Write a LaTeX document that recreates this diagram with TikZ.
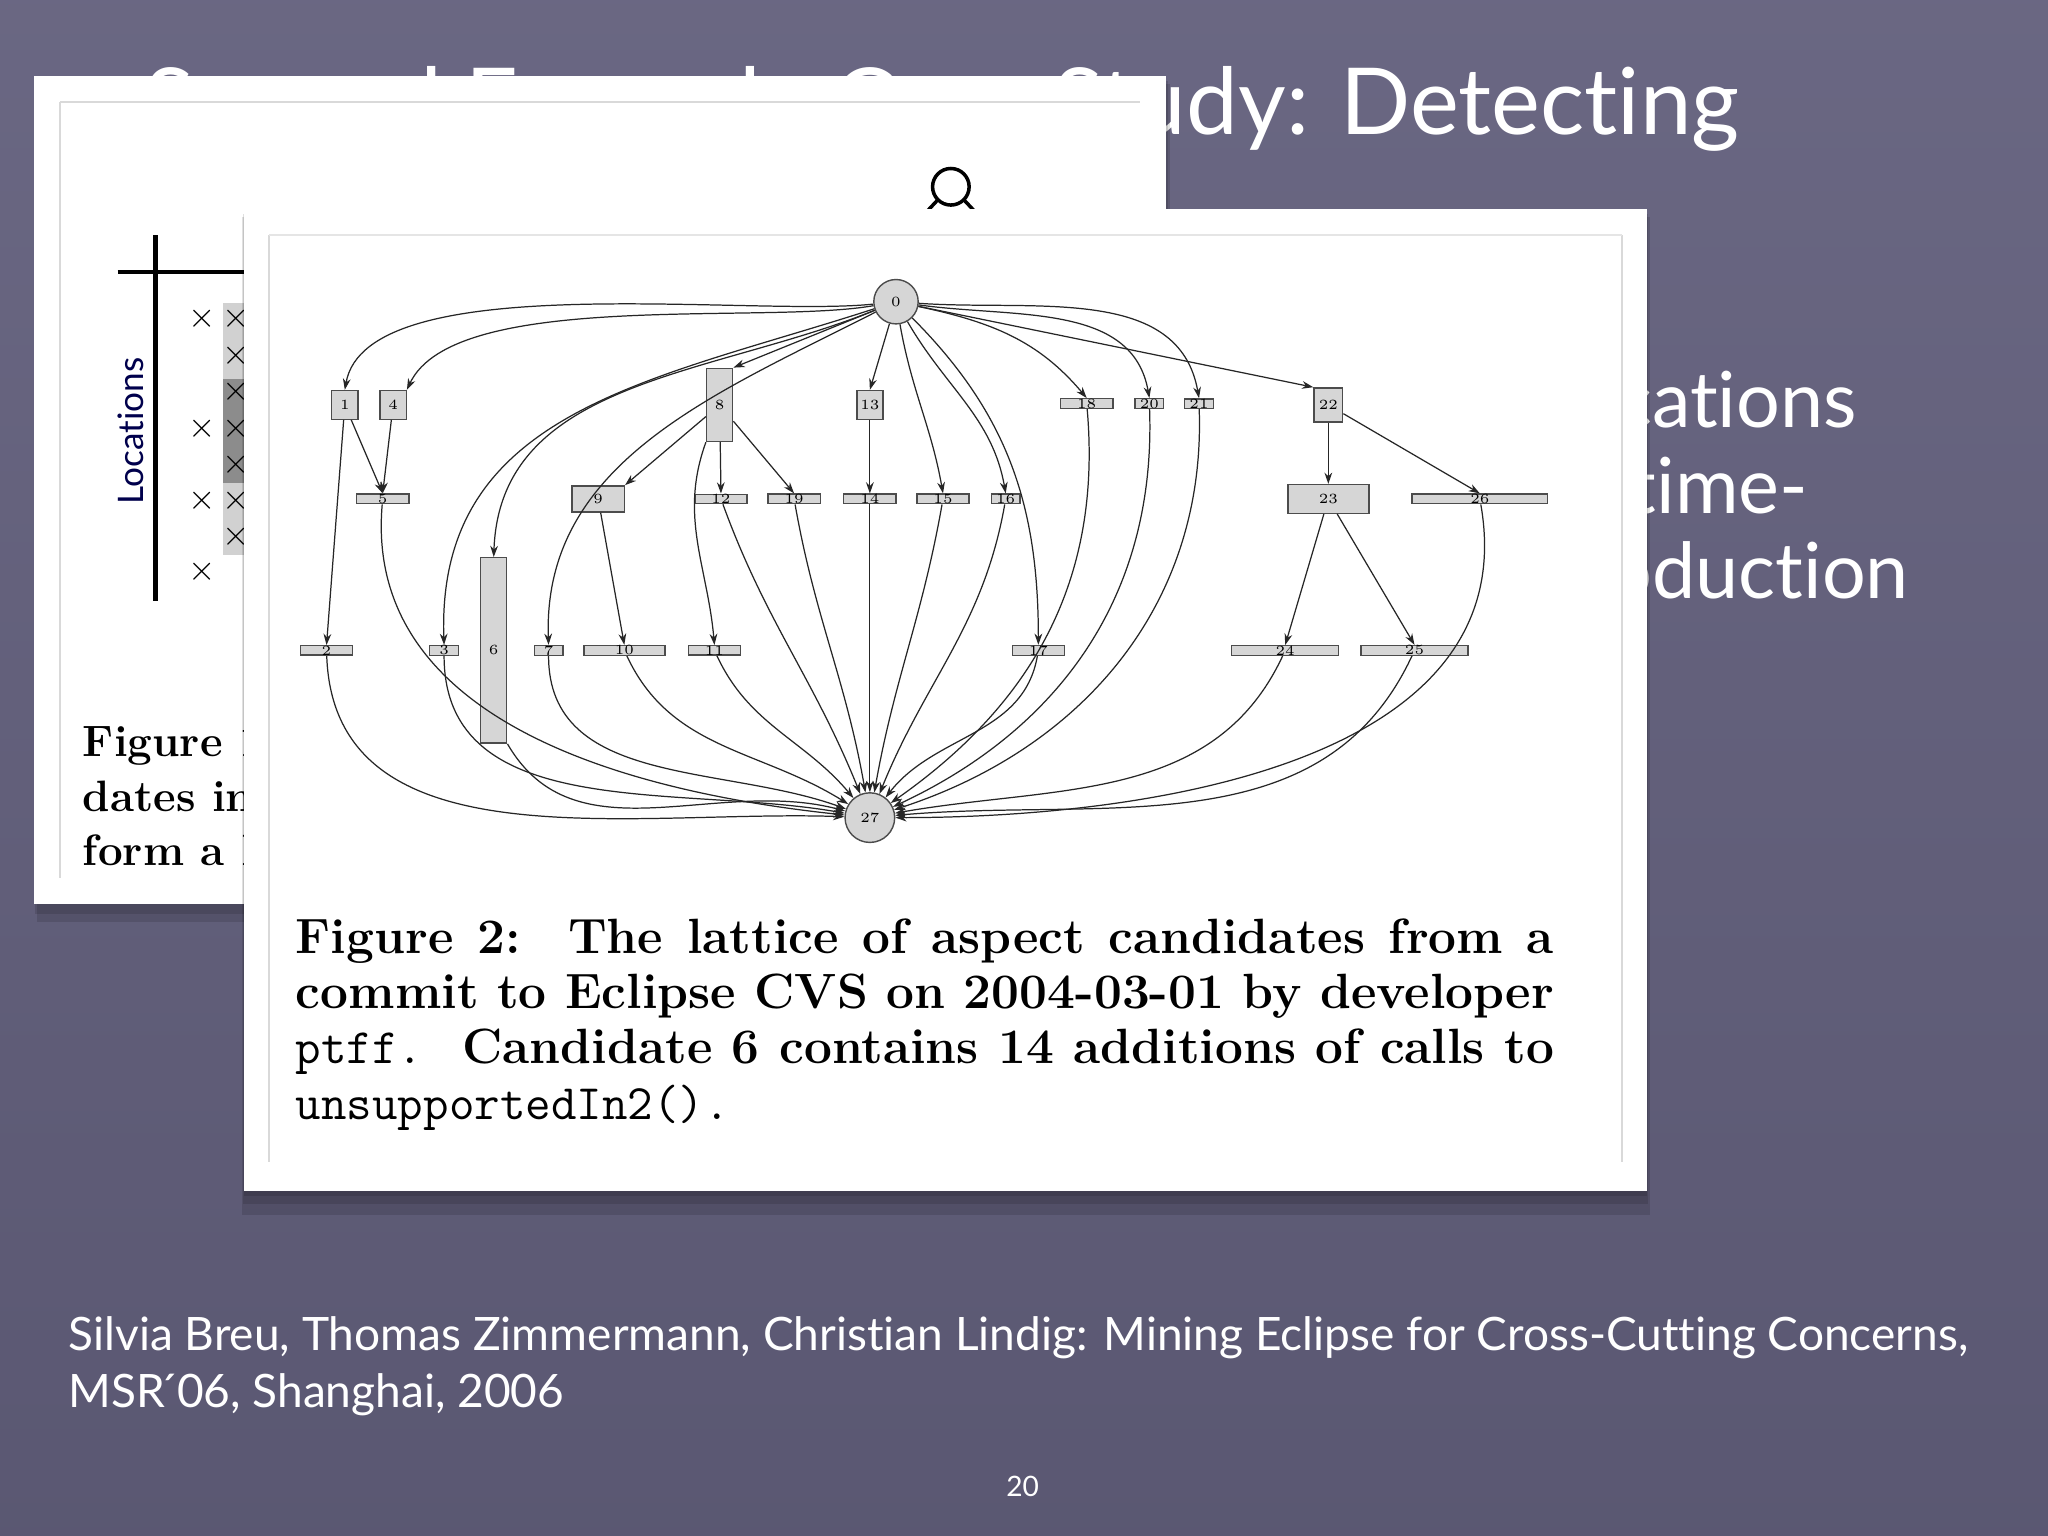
\documentclass[tikz,border=0pt]{standalone}
\usepackage{fontspec}
\newfontfamily\slidefont[Ligatures=NoCommon]{Lato}
\usetikzlibrary{arrows.meta,shadings}
\definecolor{slidebg}{HTML}{625F7C}
\newcommand\jline[1]{\hbox to 358pt{\spaceskip=0.3333em plus 1fil\relax #1}}
\tikzset{
  x=0.013061cm, y=-0.013061cm,
  bx/.style 2 args={draw=black!70, fill=black!16, line width=0.4pt, inner sep=0pt,
     minimum width=#1*0.3716pt, minimum height=#2*0.3716pt,
     font=\fontsize{4}{4}\selectfont},
  cir/.style={circle, draw=black!70, fill=black!16, line width=0.4pt, inner sep=0pt,
     minimum size=#1*0.3716pt, font=\fontsize{4}{4}\selectfont},
  ed/.style={draw=black!85, line width=0.35pt, -{Stealth[length=3.2pt,width=2.2pt]}},
  stxt/.style={text=white, font=\slidefont\fontsize{#1}{#1}\selectfont, inner sep=0pt},
  xm/.style={font=\fontsize{10}{10}\selectfont, inner sep=0pt}
}
\begin{document}
\begin{tikzpicture}
\useasboundingbox (0,0) rectangle (1568,1176);
\shade[top color=slidebg!95!white, bottom color=slidebg!92!black] (0,0) rectangle (1568,1176);
% title and hidden bullets
\node[stxt=26.3, anchor=base west] (title) at (110,103) {Second Example Case Study: Detecting};
\node[stxt=22, anchor=base east] (b1) at (1422,327) {Locations};
\node[stxt=22, anchor=base east] (b2) at (1385,393) {of time-};
\node[stxt=22, anchor=base east] (b3) at (1462,458) {introduction};
% back paper
\fill[black, opacity=0.12] (28,64) rectangle (896,706);
\fill[black, opacity=0.12] (27,62) rectangle (894,700);
\fill[white] (26,58) rectangle (893,692);
\draw[black!15, line width=0.6pt] (46,78) -- (46,672);
\draw[black!15, line width=0.6pt] (46,78) -- (873,78);
\draw[black, line width=1.2pt] (90,208) -- (187,208);
\draw[black, line width=1.2pt] (119,180) -- (119,460);
\node[rotate=90, font=\slidefont\fontsize{10}{10}\selectfont, text=black!70!blue] (loc) at (100,330) {Locations};
\fill[black!18] (171,232) rectangle (187,425);
\fill[black!45] (171,290) rectangle (187,370);
\foreach \yy in {244,328,383,438} \node[xm] at (155,\yy) {$\times$};
\foreach \yy in {244,272,300,328,356,383,411} \node[xm] at (181,\yy) {$\times$};
\draw[black, line width=1pt] (728,143) circle (14);
\draw[black, line width=1pt] (718,153) -- (704,168);
\draw[black, line width=1pt] (738,153) -- (752,168);
\node[anchor=north west, align=left, font=\bfseries\fontsize{12.5}{15.5}\selectfont, inner sep=0pt] (fig1) at (63,556) {Figure 1\\dates in\\form a l};
% front paper
\fill[black, opacity=0.12] (185,166) rectangle (1263,930);
\fill[black, opacity=0.12] (186,164) rectangle (1262,922);
\fill[black, opacity=0.12] (187,162) rectangle (1261,916);
\fill[white] (187,160) rectangle (1261,912);
\draw[black!15, line width=0.6pt] (206,180) -- (206,890);
\draw[black!15, line width=0.6pt] (1242,180) -- (1242,890);
\draw[black!10, line width=0.6pt] (206,180) -- (1242,180);
% graph nodes
\node[cir=34] (n0) at (686,231) {0};
\node[cir=38] (n27) at (666,626) {27};
\node[bx={20}{22}] (n1) at (264,310) {1};
\node[bx={20}{22}] (n4) at (301,310) {4};
\node[bx={20}{56}] (n8) at (551,310) {8};
\node[bx={20}{22}] (n13) at (666,310) {13};
\node[bx={40}{6}] (n18) at (832,309) {18};
\node[bx={22}{6}] (n20) at (880,309) {20};
\node[bx={22}{6}] (n21) at (918,309) {21};
\node[bx={22}{26}] (n22) at (1017,310) {22};
\node[bx={40}{7}] (n5) at (293,382) {5};
\node[bx={40}{20}] (n9) at (458,382) {9};
\node[bx={40}{7}] (n12) at (552,382) {12};
\node[bx={40}{7}] (n19) at (608,382) {19};
\node[bx={40}{7}] (n14) at (666,382) {14};
\node[bx={40}{7}] (n15) at (722,382) {15};
\node[bx={22}{7}] (n16) at (770,382) {16};
\node[bx={62}{22}] (n23) at (1017,382) {23};
\node[bx={104}{7}] (n26) at (1133,382) {26};
\node[bx={40}{7}] (n2) at (250,498) {2};
\node[bx={22}{7}] (n3) at (340,498) {3};
\node[bx={20}{142}] (n6) at (378,498) {6};
\node[bx={22}{7}] (n7) at (420,498) {7};
\node[bx={62}{7}] (n10) at (478,498) {10};
\node[bx={40}{7}] (n11) at (547,498) {11};
\node[bx={40}{7}] (n17) at (795,498) {17};
\node[bx={82}{7}] (n24) at (984,498) {24};
\node[bx={82}{7}] (n25) at (1083,498) {25};
% edges from 0
\draw[ed] (n0) to[out=186,in=80,looseness=0.6] (n1.north);
\draw[ed] (n0) to[out=190,in=65,looseness=0.6] (n4.north east);
\draw[ed] (n0) to[out=198,in=92,looseness=1.1] (n3.north);
\draw[ed] (n0) to[out=202,in=88] (n6.north);
\draw[ed] (n0) to[out=207,in=92] (n7.north);
\draw[ed] (n0) -- (n8.north east);
\draw[ed] (n0) -- (n13.north);
\draw[ed] (n0) to[out=-80,in=100] (n15.north);
\draw[ed] (n0) to[out=-60,in=100] (n16.north);
\draw[ed] (n0) to[out=-45,in=90] (n17.north);
\draw[ed] (n0) to[out=-12,in=130] (n18.north);
\draw[ed] (n0) to[out=-8,in=100] (n20.north);
\draw[ed] (n0) to[out=-4,in=100] (n21.north);
\draw[ed] (n0) -- (n22.north west);
% inner edges
\draw[ed] (n1) -- (n2.north);
\draw[ed] (n1) -- (n5.north);
\draw[ed] (n4) -- (n5.north);
\draw[ed] (n8) -- (n9.north east);
\draw[ed] (n8) -- (n12.north);
\draw[ed] (n8) -- (n19.north);
\draw[ed] (n8.south west) to[out=-110,in=95] (n11.north);
\draw[ed] (n13) -- (n14.north);
\draw[ed] (n9) -- (n10.north);
\draw[ed] (n22) -- (n23.north);
\draw[ed] (n22) -- (n26.north);
\draw[ed] (n23) -- (n24.north);
\draw[ed] (n23) -- (n25.north);
% edges to 27
\draw[ed] (n2) to[out=-88,in=178] (n27);
\draw[ed] (n5) to[out=-95,in=174] (n27);
\draw[ed] (n3) to[out=-90,in=170] (n27);
\draw[ed] (n6.south east) to[out=-60,in=165] (n27);
\draw[ed] (n7) to[out=-90,in=160] (n27);
\draw[ed] (n10) to[out=-65,in=148] (n27);
\draw[ed] (n11) to[out=-65,in=130] (n27);
\draw[ed] (n12) to[out=-70,in=112] (n27);
\draw[ed] (n19) to[out=-80,in=100] (n27);
\draw[ed] (n14) -- (n27);
\draw[ed] (n15) to[out=-100,in=80] (n27);
\draw[ed] (n16) to[out=-100,in=68] (n27);
\draw[ed] (n17) to[out=-100,in=52] (n27);
\draw[ed] (n18) to[out=-85,in=35] (n27);
\draw[ed] (n20) to[out=-88,in=25] (n27);
\draw[ed] (n21) to[out=-88,in=18] (n27);
\draw[ed] (n24) to[out=-115,in=10] (n27);
\draw[ed] (n25) to[out=-115,in=5] (n27);
\draw[ed] (n26) to[out=-80,in=0] (n27);
% caption
\node[anchor=north west, inner sep=0pt, text width=358pt, align=left,
  font=\bfseries\fontsize{14.1}{15.7}\selectfont] (cap) at (226,703)
  {\jline{Figure 2:\ \ The lattice of aspect candidates from a}
   \jline{commit to Eclipse CVS on 2004-03-01 by developer}
   \jline{{\mdseries\ttfamily ptff.}\ \ Candidate 6 contains 14 additions of calls to}
   {\mdseries\ttfamily unsupportedIn2().}};
% citation and page
\node[stxt=13.1, anchor=base west, align=left] (cite) at (52,1034)
  {Silvia Breu, Thomas Zimmermann, Christian Lindig: Mining Eclipse for Cross-Cutting Concerns,};
\node[stxt=13.1, anchor=base west] (cite2) at (52,1078) {MSR\'{}06, Shanghai, 2006};
\node[stxt=8, anchor=base] (page) at (783,1146) {20};
\end{tikzpicture}
\end{document}
